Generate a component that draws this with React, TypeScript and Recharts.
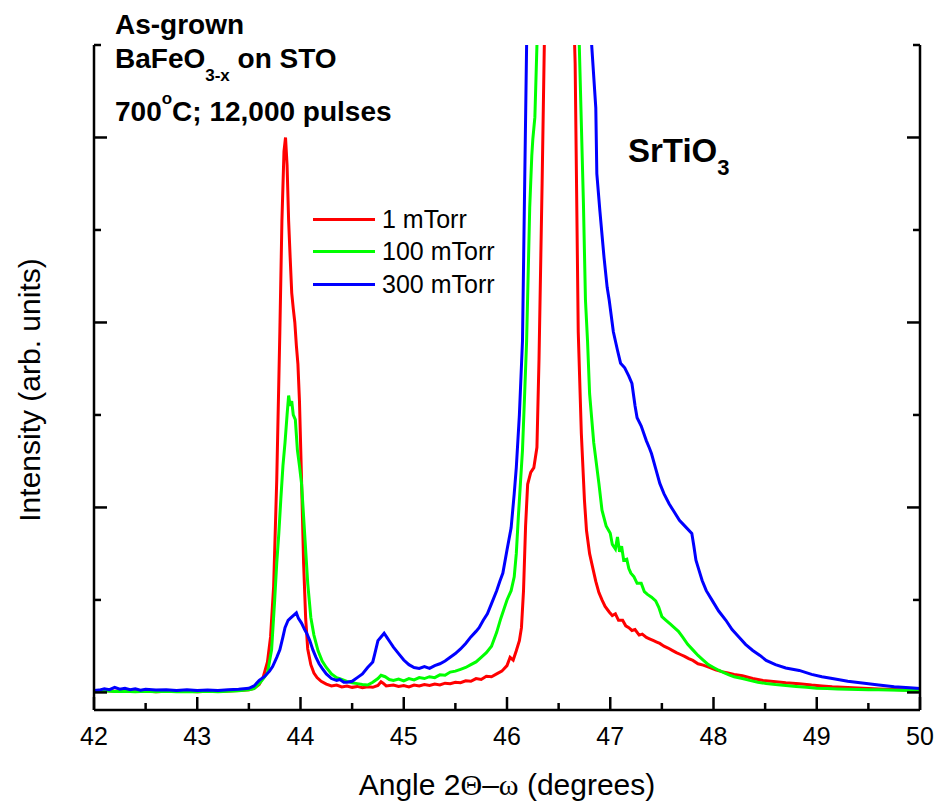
import React from 'react';
import { LineChart, Line, XAxis, YAxis, Legend } from 'recharts';

// 2Θ–ω scans, intensity in arbitrary units (peak of SrTiO3 runs off the top)
const redAngle = [
  42.0, 42.1, 42.2, 42.3, 42.4, 42.5, 42.6, 42.7, 42.8, 42.9, 43.0, 43.1, 43.2, 43.3, 43.4, 43.5,
  43.55, 43.6, 43.64, 43.68, 43.71, 43.74, 43.77, 43.8, 43.82, 43.84, 43.855, 43.87, 43.885, 43.9,
  43.915, 43.93, 43.945, 43.96, 43.975, 43.99, 44.01, 44.03, 44.05, 44.07, 44.1, 44.13, 44.16, 44.2,
  44.25, 44.3, 44.35, 44.4, 44.45, 44.5, 44.55, 44.6, 44.65, 44.7, 44.75, 44.78, 44.8, 44.83, 44.9,
  44.95, 45.0, 45.05, 45.1, 45.15, 45.2, 45.25, 45.3, 45.35, 45.4, 45.45, 45.5, 45.55, 45.6, 45.65,
  45.7, 45.75, 45.8, 45.85, 45.9, 45.95, 46.0, 46.03, 46.06, 46.09, 46.12, 46.14, 46.16, 46.18, 46.2,
  46.23, 46.26, 46.29, 46.31, 46.34, 46.37, 46.42, 46.47, 46.52, 46.58, 46.63, 46.66, 46.69, 46.72,
  46.75, 46.77, 46.8, 46.83, 46.86, 46.89, 46.92, 46.95, 46.99, 47.02, 47.05, 47.08, 47.12, 47.15,
  47.18, 47.21, 47.24, 47.28, 47.31, 47.35, 47.38, 47.42, 47.45, 47.48, 47.52, 47.56, 47.6, 47.64,
  47.68, 47.72, 47.76, 47.8, 47.85, 47.9, 47.96, 48.02, 48.08, 48.14, 48.2, 48.28, 48.38, 48.48,
  48.58, 48.7, 48.83, 48.95, 49.05, 49.15, 49.3, 49.45, 49.6, 49.75, 49.9, 50.0,
];
const redIntensity = [
  15, 22, 12, 18, 10, 16, 8, 14, 10, 12, 8, 14, 10, 16, 22, 30,
  45, 85, 170, 330, 600, 1150, 2300, 3900, 5100, 5850, 6000, 5700, 5100, 4700,
  4320, 4150, 4000, 3750, 3550, 3150, 2300, 1400, 800, 470, 300, 210, 160, 120,
  90, 70, 80, 60, 70, 55, 65, 50, 60, 55, 75, 115, 100, 70, 80,
  65, 75, 60, 80, 70, 85, 75, 90, 80, 100, 95, 110, 105, 125, 120,
  150, 140, 175, 170, 200, 230, 290, 380, 350, 450, 560, 700, 1100, 1800, 2250,
  2380, 2430, 2650, 3600, 5500, 7600, 15000, 40000, 20000, 11000, 8000, 6800, 3900, 2800,
  2080, 1750, 1500, 1350, 1200, 1080, 1000, 930, 870, 830, 850, 780, 780, 720,
  700, 670, 680, 620, 630, 595, 580, 560, 545, 530, 500, 480, 455, 430,
  410, 390, 365, 346, 310, 295, 270, 245, 225, 210, 195, 180, 150, 130,
  118, 105, 95, 80, 70, 62, 54, 45, 38, 32, 26, 24,
];

const greenAngle = [
  42.0, 42.1, 42.2, 42.3, 42.4, 42.5, 42.6, 42.7, 42.8, 42.9, 43.0, 43.1, 43.2, 43.3, 43.4, 43.5,
  43.55, 43.6, 43.64, 43.68, 43.72, 43.75, 43.77, 43.79, 43.81, 43.83, 43.85, 43.87, 43.885, 43.9,
  43.915, 43.93, 43.95, 43.97, 43.99, 44.01, 44.04, 44.07, 44.1, 44.13, 44.17, 44.21, 44.25, 44.3,
  44.35, 44.4, 44.45, 44.5, 44.55, 44.6, 44.65, 44.7, 44.75, 44.78, 44.82, 44.86, 44.9, 44.95, 45.0,
  45.05, 45.1, 45.15, 45.2, 45.25, 45.3, 45.35, 45.4, 45.45, 45.5, 45.55, 45.6, 45.65, 45.7, 45.75,
  45.8, 45.85, 45.9, 45.94, 45.97, 46.0, 46.04, 46.07, 46.09, 46.11, 46.13, 46.15, 46.17, 46.19,
  46.22, 46.24, 46.25, 46.27, 46.29, 46.33, 46.4, 46.47, 46.55, 46.63, 46.7, 46.74, 46.76, 46.78,
  46.8, 46.84, 46.89, 46.92, 46.96, 47.0, 47.02, 47.05, 47.07, 47.09, 47.11, 47.13, 47.16, 47.18,
  47.2, 47.23, 47.26, 47.3, 47.33, 47.36, 47.4, 47.44, 47.47, 47.5, 47.54, 47.58, 47.62, 47.66,
  47.7, 47.75, 47.8, 47.85, 47.9, 47.95, 48.0, 48.05, 48.1, 48.15, 48.2, 48.28, 48.35, 48.43,
  48.51, 48.6, 48.7, 48.8, 48.9, 49.0, 49.1, 49.2, 49.3, 49.4, 49.5, 49.6, 49.7, 49.8, 49.9, 50.0,
];
const greenIntensity = [
  12, 18, 10, 14, 8, 12, 6, 12, 8, 10, 6, 12, 8, 14, 18, 28,
  40, 95, 150, 210, 460, 1000, 1400, 1720, 2100, 2450, 2700, 3000, 3210, 3100,
  3150, 3000, 2950, 2620, 2450, 2260, 1720, 1180, 810, 620, 450, 340, 270, 200,
  160, 140, 120, 105, 95, 85, 80, 110, 150, 185, 170, 140, 130, 145, 125,
  150, 135, 160, 150, 170, 160, 190, 185, 220, 230, 250, 270, 300, 330, 380,
  430, 500, 650, 800, 900, 1000, 1100, 1250, 1500, 1900, 2260, 2620, 3200, 3800,
  5240, 5800, 5980, 6220, 7000, 10000, 18000, 45000, 15000, 8500, 7000, 5300, 4240, 3800,
  3230, 2700, 2260, 1970, 1800, 1720, 1600, 1550, 1680, 1520, 1580, 1430, 1440, 1340,
  1290, 1250, 1180, 1180, 1090, 1060, 1030, 990, 920, 820, 780, 740, 700, 660,
  600, 520, 460, 400, 350, 300, 270, 240, 215, 190, 170, 150, 130, 110,
  97, 85, 75, 65, 55, 45, 42, 38, 35, 32, 30, 28, 25, 24, 22, 20,
];

const blueAngle = [
  42.0, 42.05, 42.1, 42.15, 42.2, 42.25, 42.3, 42.35, 42.4, 42.45, 42.5, 42.6, 42.7, 42.8, 42.9,
  43.0, 43.1, 43.2, 43.3, 43.4, 43.5, 43.55, 43.6, 43.65, 43.7, 43.73, 43.77, 43.8, 43.83, 43.85,
  43.88, 43.9, 43.93, 43.96, 43.98, 44.01, 44.04, 44.06, 44.09, 44.12, 44.15, 44.18, 44.21, 44.25,
  44.3, 44.35, 44.38, 44.42, 44.45, 44.5, 44.55, 44.6, 44.65, 44.7, 44.72, 44.75, 44.78, 44.81,
  44.84, 44.87, 44.9, 44.95, 45.0, 45.05, 45.1, 45.15, 45.2, 45.25, 45.3, 45.35, 45.4, 45.45,
  45.5, 45.55, 45.6, 45.65, 45.7, 45.73, 45.77, 45.81, 45.85, 45.9, 45.93, 45.96, 46.0, 46.04,
  46.07, 46.09, 46.12, 46.15, 46.19, 46.25, 46.35, 46.47, 46.6, 46.72, 46.78, 46.82, 46.86, 46.87,
  46.9, 46.94, 46.97, 46.99, 47.03, 47.07, 47.1, 47.14, 47.18, 47.21, 47.24, 47.26, 47.3, 47.35,
  47.38, 47.4, 47.44, 47.48, 47.52, 47.57, 47.62, 47.67, 47.73, 47.79, 47.81, 47.83, 47.86, 47.89,
  47.93, 47.99, 48.05, 48.12, 48.18, 48.25, 48.31, 48.38, 48.45, 48.51, 48.6, 48.7, 48.83, 48.95,
  49.05, 49.15, 49.3, 49.48, 49.6, 49.75, 49.9, 50.0,
];
const blueIntensity = [
  20, 25, 40, 30, 55, 35, 45, 30, 40, 25, 35, 25, 30, 20, 30,
  20, 25, 20, 30, 35, 45, 70, 130, 170, 230, 280, 380, 460, 600, 700,
  780, 800, 830, 860, 800, 750, 680, 640, 560, 460, 380, 310, 260, 200,
  150, 130, 140, 110, 110, 120, 160, 200, 270, 330, 420, 560, 600, 640,
  590, 540, 490, 420, 350, 300, 270, 260, 280, 260, 290, 310, 340, 380,
  420, 470, 530, 600, 660, 700, 780, 850, 960, 1100, 1200, 1290, 1540, 1780,
  2150, 2430, 3000, 3800, 7000, 12000, 25000, 60000, 25000, 12000, 8500, 7000, 6320, 5610,
  5200, 4700, 4380, 4240, 3900, 3700, 3560, 3510, 3420, 3340, 3100, 2970, 2880, 2720,
  2640, 2580, 2420, 2260, 2150, 2040, 1950, 1860, 1790, 1720, 1580, 1430, 1320, 1210,
  1100, 990, 880, 780, 680, 595, 520, 454, 400, 346, 300, 265, 238, 195,
  170, 151, 120, 97, 80, 62, 50, 43,
];

const seriesNames = ['1 mTorr', '100 mTorr', '300 mTorr'];
const seriesColors = ['#ff0000', '#00ff00', '#0000ff'];

const xTicks = [42, 42.5, 43, 43.5, 44, 44.5, 45, 45.5, 46, 46.5, 47, 47.5, 48, 48.5, 49, 49.5, 50];
const yTicks = [0, 1000, 2000, 3000, 4000, 5000, 6000, 7000];

const FONT = '"Liberation Sans", Arial, sans-serif';

const toPoints = (xs: number[], ys: number[]) => xs.map((x, i) => ({ x, y: ys[i] }));
const series = [
  toPoints(redAngle, redIntensity),
  toPoints(greenAngle, greenIntensity),
  toPoints(blueAngle, blueIntensity),
];

const XTick = (props: any) => {
  const { x, y, payload } = props;
  const major = Number.isInteger(payload.value);
  return (
    <g>
      <line x1={x} y1={y} x2={x} y2={y - (major ? 13 : 7)} stroke="#000" strokeWidth={2.5} />
      {major && (
        <text x={x} y={y + 35} textAnchor="middle" fontSize={25} fontFamily={FONT} fill="#000">
          {payload.value}
        </text>
      )}
    </g>
  );
};

const LeftTick = (props: any) => {
  const { x, y, payload } = props;
  const major = payload.value % 2000 === 0;
  return <line x1={x} y1={y} x2={x + (major ? 13 : 7)} y2={y} stroke="#000" strokeWidth={2.5} />;
};

const RightTick = (props: any) => {
  const { x, y, payload } = props;
  const major = payload.value % 2000 === 0;
  return <line x1={x} y1={y} x2={x - (major ? 13 : 7)} y2={y} stroke="#000" strokeWidth={2.5} />;
};

const LegendBox = () => (
  <div style={{ fontFamily: FONT }}>
    {seriesNames.map((name, i) => (
      <div key={name} style={{ display: 'flex', alignItems: 'center', height: 32.5 }}>
        <div style={{ width: 62, height: 3, background: seriesColors[i], marginRight: 7 }} />
        <span style={{ fontSize: 25, lineHeight: '25px', color: '#000' }}>{name}</span>
      </div>
    ))}
  </div>
);

const bold: React.CSSProperties = {
  position: 'absolute',
  fontFamily: FONT,
  fontWeight: 'bold',
  fontSize: 28,
  lineHeight: '28px',
  whiteSpace: 'nowrap',
  color: '#000',
};

const shifted = (size: number, top: number): React.CSSProperties => ({
  fontSize: size,
  lineHeight: '10px',
  position: 'relative',
  top,
});

export default function App() {
  return (
    <div style={{ position: 'absolute', left: 0, top: 0, width: 939, height: 806, background: '#fff' }}>
      <LineChart width={939} height={806} margin={{ top: 45, right: 18, bottom: 95, left: 93 }}>
        <XAxis
          type="number"
          dataKey="x"
          domain={[42, 50]}
          ticks={xTicks}
          interval={0}
          height={1}
          tickSize={0}
          tickMargin={0}
          tickLine={false}
          tick={<XTick />}
          axisLine={{ stroke: '#000', strokeWidth: 2.5 }}
        />
        <YAxis
          yAxisId="left"
          type="number"
          domain={[-190, 7000]}
          allowDataOverflow
          ticks={yTicks}
          interval={0}
          width={1}
          tickSize={0}
          tickMargin={0}
          tickLine={false}
          tick={<LeftTick />}
          axisLine={{ stroke: '#000', strokeWidth: 2.5 }}
        />
        <YAxis
          yAxisId="right"
          orientation="right"
          type="number"
          domain={[-190, 7000]}
          allowDataOverflow
          ticks={yTicks}
          interval={0}
          width={1}
          tickSize={0}
          tickMargin={0}
          tickLine={false}
          tick={<RightTick />}
          axisLine={{ stroke: '#000', strokeWidth: 2.5 }}
        />
        {series.map((data, i) => (
          <Line
            key={seriesNames[i]}
            yAxisId="left"
            data={data}
            dataKey="y"
            name={seriesNames[i]}
            type="linear"
            stroke={seriesColors[i]}
            strokeWidth={3}
            dot={false}
            isAnimationActive={false}
          />
        ))}
        <Legend
          layout="vertical"
          align="center"
          verticalAlign="middle"
          content={<LegendBox />}
          wrapperStyle={{ position: 'absolute', left: 313, top: 203, width: 250 }}
        />
      </LineChart>

      <div style={{ ...bold, left: 115, top: 11 }}>As-grown</div>
      <div style={{ ...bold, left: 115, top: 45 }}>
        BaFeO<span style={shifted(17, 13)}>3-x</span> on STO
      </div>
      <div style={{ ...bold, left: 115, top: 98 }}>
        700<span style={shifted(17, -17)}>o</span>C; 12,000 pulses
      </div>
      <div style={{ ...bold, left: 628, top: 134, fontSize: 33, lineHeight: '33px' }}>
        SrTiO<span style={shifted(22, 13)}>3</span>
      </div>

      <div
        style={{
          position: 'absolute',
          left: 507,
          top: 770,
          transform: 'translateX(-50%)',
          fontFamily: FONT,
          fontSize: 30,
          lineHeight: '30px',
          whiteSpace: 'nowrap',
        }}
      >
        Angle 2<span style={{ fontFamily: '"Liberation Serif", serif' }}>Θ</span>–
        <span style={{ fontFamily: '"Liberation Serif", serif' }}>ω</span> (degrees)
      </div>
      <div
        style={{
          position: 'absolute',
          left: 30,
          top: 390,
          transform: 'translate(-50%, -50%) rotate(-90deg)',
          fontFamily: FONT,
          fontSize: 30,
          lineHeight: '30px',
          whiteSpace: 'nowrap',
        }}
      >
        Intensity (arb. units)
      </div>
    </div>
  );
}
